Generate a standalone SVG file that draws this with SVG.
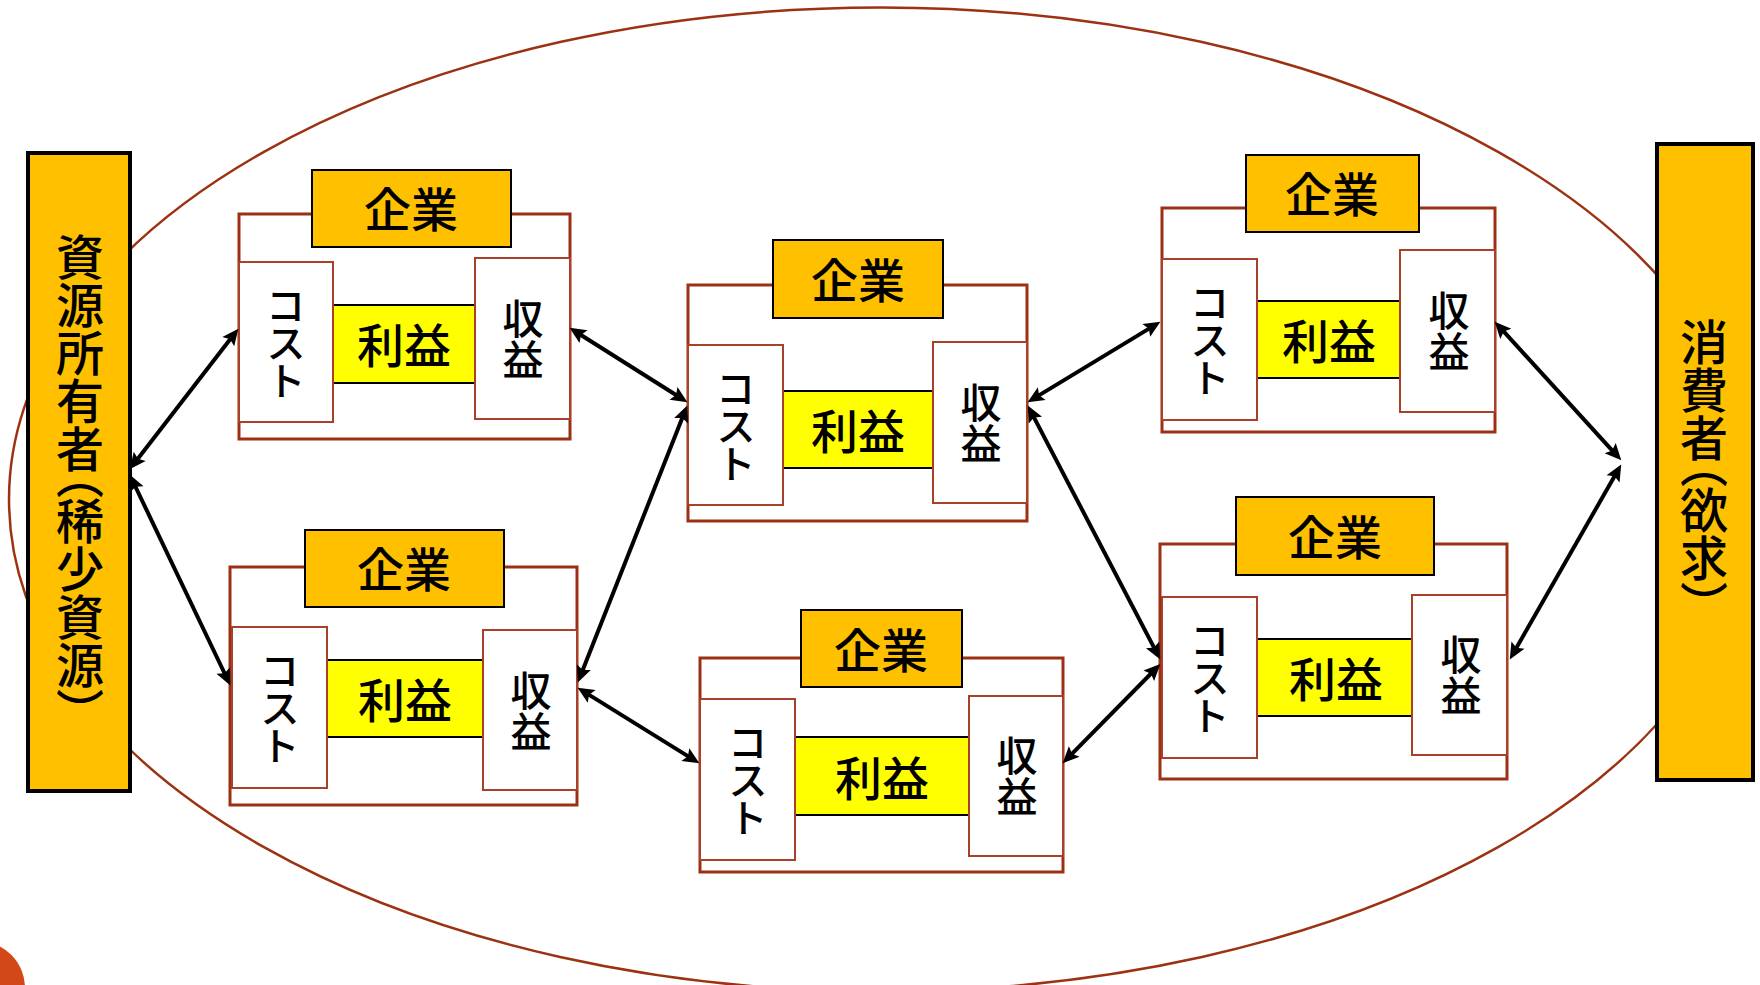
<svg xmlns="http://www.w3.org/2000/svg" width="1760" height="985" viewBox="0 0 1760 985">
<style>
text{font-family:"Noto Sans CJK JP","Noto Sans CJK SC",sans-serif;fill:#000;text-anchor:middle;font-weight:500}
.outer{fill:#fff;stroke:#9B3014;stroke-width:3}
.side{fill:#fff;stroke:#A8402A;stroke-width:2}
.title{fill:#FFC000;stroke:#000;stroke-width:2}
.profit{fill:#FF0;stroke:#000;stroke-width:2}
.party{fill:#FFC000;stroke:#000;stroke-width:4}
.h{font-size:47px;dominant-baseline:central}
.v{font-size:41px;writing-mode:vertical-rl}
.k{font-size:40px;writing-mode:vertical-rl;letter-spacing:-2px}
.p{font-size:48px;writing-mode:vertical-rl;font-feature-settings:"vpal"}
.a{stroke:#000;stroke-width:4;fill:none;marker-start:url(#ah);marker-end:url(#ah)}
</style>
<defs>
<marker id="ah" viewBox="-13 -9 20 18" refX="0" refY="0" markerWidth="20" markerHeight="18" markerUnits="userSpaceOnUse" orient="auto-start-reverse"><path d="M5.5,0 L-11,-7.5 L-8,0 L-11,7.5 Z" fill="#000"/></marker>
</defs>
<g id="background">
<ellipse cx="881" cy="499.5" rx="872" ry="492" fill="#fff" stroke="#9C3212" stroke-width="2.5"/>
<circle cx="-22" cy="988" r="47" fill="#D34817"/>
</g>
<g id="resource-owner"><rect class="party" x="28" y="153" width="102" height="638"/><text class="p" x="80" y="473">資源所有者（稀少資源）</text></g>
<g id="consumer"><rect class="party" x="1657" y="144" width="96" height="636"/><text class="p" x="1704" y="462">消費者（欲求）</text></g>
<g id="firm-a">
<rect class="outer" x="239" y="214" width="331" height="225"/>
<rect class="title" x="312" y="170" width="199" height="77"/><text class="h" x="411" y="206">企業</text>
<rect class="profit" x="333" y="305" width="142" height="78"/><text class="h" x="404" y="342">利益</text>
<rect class="side" x="239" y="262" width="94" height="160"/><text class="k" x="286" y="342">コスト</text>
<rect class="side" x="475" y="258" width="95" height="161"/><text class="v" x="523" y="339">収益</text>
</g>
<g id="firm-b">
<rect class="outer" x="230" y="567" width="347" height="238"/>
<rect class="title" x="305" y="530" width="199" height="77"/><text class="h" x="404" y="566">企業</text>
<rect class="profit" x="327" y="660" width="156" height="77"/><text class="h" x="405" y="697">利益</text>
<rect class="side" x="232" y="627" width="95" height="161"/><text class="k" x="280" y="707">コスト</text>
<rect class="side" x="483" y="630" width="94" height="160"/><text class="v" x="531" y="711">収益</text>
</g>
<g id="firm-c">
<rect class="outer" x="688" y="285" width="339" height="236"/>
<rect class="title" x="773" y="240" width="170" height="78"/><text class="h" x="858" y="277">企業</text>
<rect class="profit" x="783" y="391" width="150" height="77"/><text class="h" x="858" y="428">利益</text>
<rect class="side" x="688" y="345" width="95" height="160"/><text class="k" x="736" y="425">コスト</text>
<rect class="side" x="933" y="342" width="94" height="161"/><text class="v" x="981" y="423">収益</text>
</g>
<g id="firm-d">
<rect class="outer" x="700" y="658" width="363" height="214"/>
<rect class="title" x="801" y="610" width="161" height="77"/><text class="h" x="881" y="647">企業</text>
<rect class="profit" x="795" y="737" width="174" height="78"/><text class="h" x="882" y="775">利益</text>
<rect class="side" x="700" y="699" width="95" height="161"/><text class="k" x="748" y="779">コスト</text>
<rect class="side" x="969" y="696" width="94" height="160"/><text class="v" x="1017" y="776">収益</text>
</g>
<g id="firm-e">
<rect class="outer" x="1162" y="208" width="333" height="224"/>
<rect class="title" x="1246" y="155" width="173" height="77"/><text class="h" x="1332" y="191">企業</text>
<rect class="profit" x="1257" y="301" width="143" height="77"/><text class="h" x="1329" y="338">利益</text>
<rect class="side" x="1162" y="259" width="95" height="161"/><text class="k" x="1210" y="339">コスト</text>
<rect class="side" x="1400" y="250" width="95" height="162"/><text class="v" x="1449" y="331">収益</text>
</g>
<g id="firm-f">
<rect class="outer" x="1160" y="544" width="347" height="235"/>
<rect class="title" x="1236" y="497" width="198" height="78"/><text class="h" x="1335" y="534">企業</text>
<rect class="profit" x="1257" y="639" width="155" height="77"/><text class="h" x="1336" y="676">利益</text>
<rect class="side" x="1162" y="597" width="95" height="161"/><text class="k" x="1210" y="677">コスト</text>
<rect class="side" x="1412" y="595" width="95" height="160"/><text class="v" x="1461" y="675">収益</text>
</g>
<g id="connectors">
<line class="a" x1="235" y1="333" x2="133" y2="465"/>
<line class="a" x1="132" y1="479.5" x2="228" y2="680.5"/>
<line class="a" x1="574.2" y1="330.7" x2="682.8" y2="399.3"/>
<line class="a" x1="685.2" y1="410.6" x2="579.8" y2="677.4"/>
<line class="a" x1="582.3" y1="690.6" x2="694.7" y2="760.4"/>
<line class="a" x1="1032.3" y1="399.4" x2="1155.7" y2="324.6"/>
<line class="a" x1="1030.3" y1="410.4" x2="1157.7" y2="654.6"/>
<line class="a" x1="1066.5" y1="759.4" x2="1156.5" y2="668"/>
<line class="a" x1="1498.4" y1="325.7" x2="1617.6" y2="456.3"/>
<line class="a" x1="1618.5" y1="469.3" x2="1512.5" y2="654.7"/>
</g>
</svg>
